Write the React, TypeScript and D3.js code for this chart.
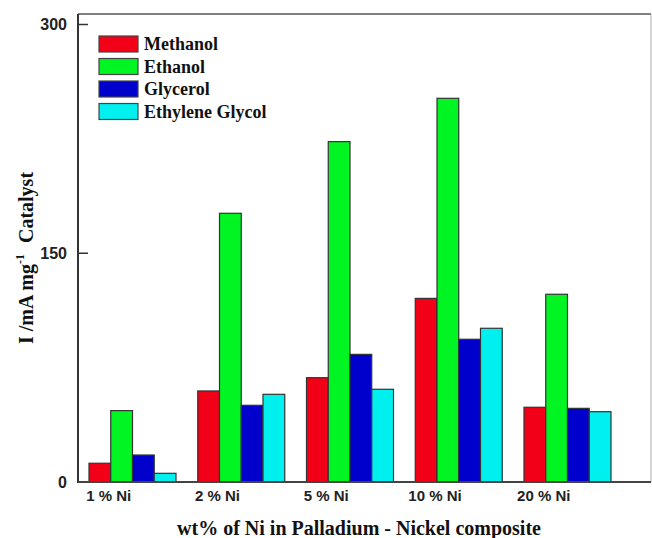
import React from "react";
import * as d3 from "d3";

const categories = ["1 % Ni", "2 % Ni", "5 % Ni", "10 % Ni", "20 % Ni"];
const seriesNames = ["Methanol", "Ethanol", "Glycerol", "Ethylene Glycol"];
const methanol = [12.3, 59.7, 68.4, 120.4, 49];
const ethanol = [46.8, 176.2, 223.2, 251.6, 123.1];
const glycerol = [17.7, 50.3, 83.7, 93.6, 48.3];
const ethyleneGlycol = [5.7, 57.5, 60.8, 100.8, 46.1];
const seriesValues = [methanol, ethanol, glycerol, ethyleneGlycol];
const colors = ["#f20018", "#00f522", "#0000cc", "#00f0f0"];
const yTicks = [0, 150, 300];

export default function App() {
  const W = 652, H = 538;
  const left = 78, right = 651, top = 14, bottom = 482;
  const y = d3.scaleLinear().domain([0, 300]).range([bottom, 24.5]);
  const x0 = d3.scaleBand<string>().domain(categories).range([89, 611]).paddingInner(0.2).paddingOuter(0);
  const x1 = d3.scaleBand<string>().domain(seriesNames).range([0, x0.bandwidth()]).padding(0);
  const sans = "'Liberation Sans', Arial, sans-serif";
  const serif = "'Liberation Serif', 'Times New Roman', serif";
  return (
    <svg width={W} height={H} style={{ position: "absolute", left: 0, top: 0, background: "#fff" }}>
      {/* bars */}
      {categories.map((c, ci) => (
        <g key={c} transform={`translate(${x0(c)},0)`}>
          {seriesNames.map((s, si) => (
            <rect
              key={s}
              x={x1(s)}
              y={y(seriesValues[si][ci])}
              width={x1.bandwidth()}
              height={bottom - y(seriesValues[si][ci])}
              fill={colors[si]}
              stroke="#333"
              strokeWidth={1.2}
            />
          ))}
        </g>
      ))}
      {/* frame */}
      <line x1={left} x2={right} y1={top} y2={top} stroke="#555" strokeWidth={1.5} />
      <line x1={right} x2={right} y1={top} y2={bottom} stroke="#aaa" strokeWidth={1} />
      <line x1={left} x2={left} y1={top} y2={bottom + 1} stroke="#333" strokeWidth={2} />
      <line x1={left} x2={right} y1={bottom} y2={bottom} stroke="#444" strokeWidth={2} />
      {/* y ticks */}
      {yTicks.map((t) => (
        <g key={t}>
          {t > 0 && <line x1={left} x2={left + 10} y1={y(t)} y2={y(t)} stroke="#333" strokeWidth={1.5} />}
          <text x={67} y={y(t)} dy="0.36em" textAnchor="end" fontFamily={sans} fontWeight="bold" fontSize={16} fill="#222">
            {t}
          </text>
        </g>
      ))}
      {/* x tick labels */}
      {categories.map((c) => (
        <text
          key={c}
          x={(x0(c) as number) + x1("Ethanol")! - 2}
          y={501}
          textAnchor="middle"
          fontFamily={sans}
          fontWeight="bold"
          fontSize={15}
          fill="#222"
        >
          {c}
        </text>
      ))}
      {/* axis titles */}
      <text x={359} y={535} textAnchor="middle" fontFamily={serif} fontWeight="bold" fontSize={20} fill="#111">
        wt% of Ni in Palladium - Nickel composite
      </text>
      <text
        transform="translate(33,258) rotate(-90)"
        textAnchor="middle"
        fontFamily={serif}
        fontWeight="bold"
        fontSize={20}
        fill="#111"
      >
        I /mA mg
        <tspan fontSize={12} dy={-9}>-1</tspan>
        <tspan dy={9} dx={6}> Catalyst</tspan>
      </text>
      {/* legend */}
      {seriesNames.map((s, i) => (
        <g key={s} transform={`translate(99,${36 + i * 22.5})`}>
          <rect x={0} y={0} width={39} height={16} fill={colors[i]} stroke="#444" strokeWidth={1.2} />
          <text x={45} y={8} dy="0.35em" fontFamily={serif} fontWeight="bold" fontSize={18} fill="#111">
            {s}
          </text>
        </g>
      ))}
    </svg>
  );
}
